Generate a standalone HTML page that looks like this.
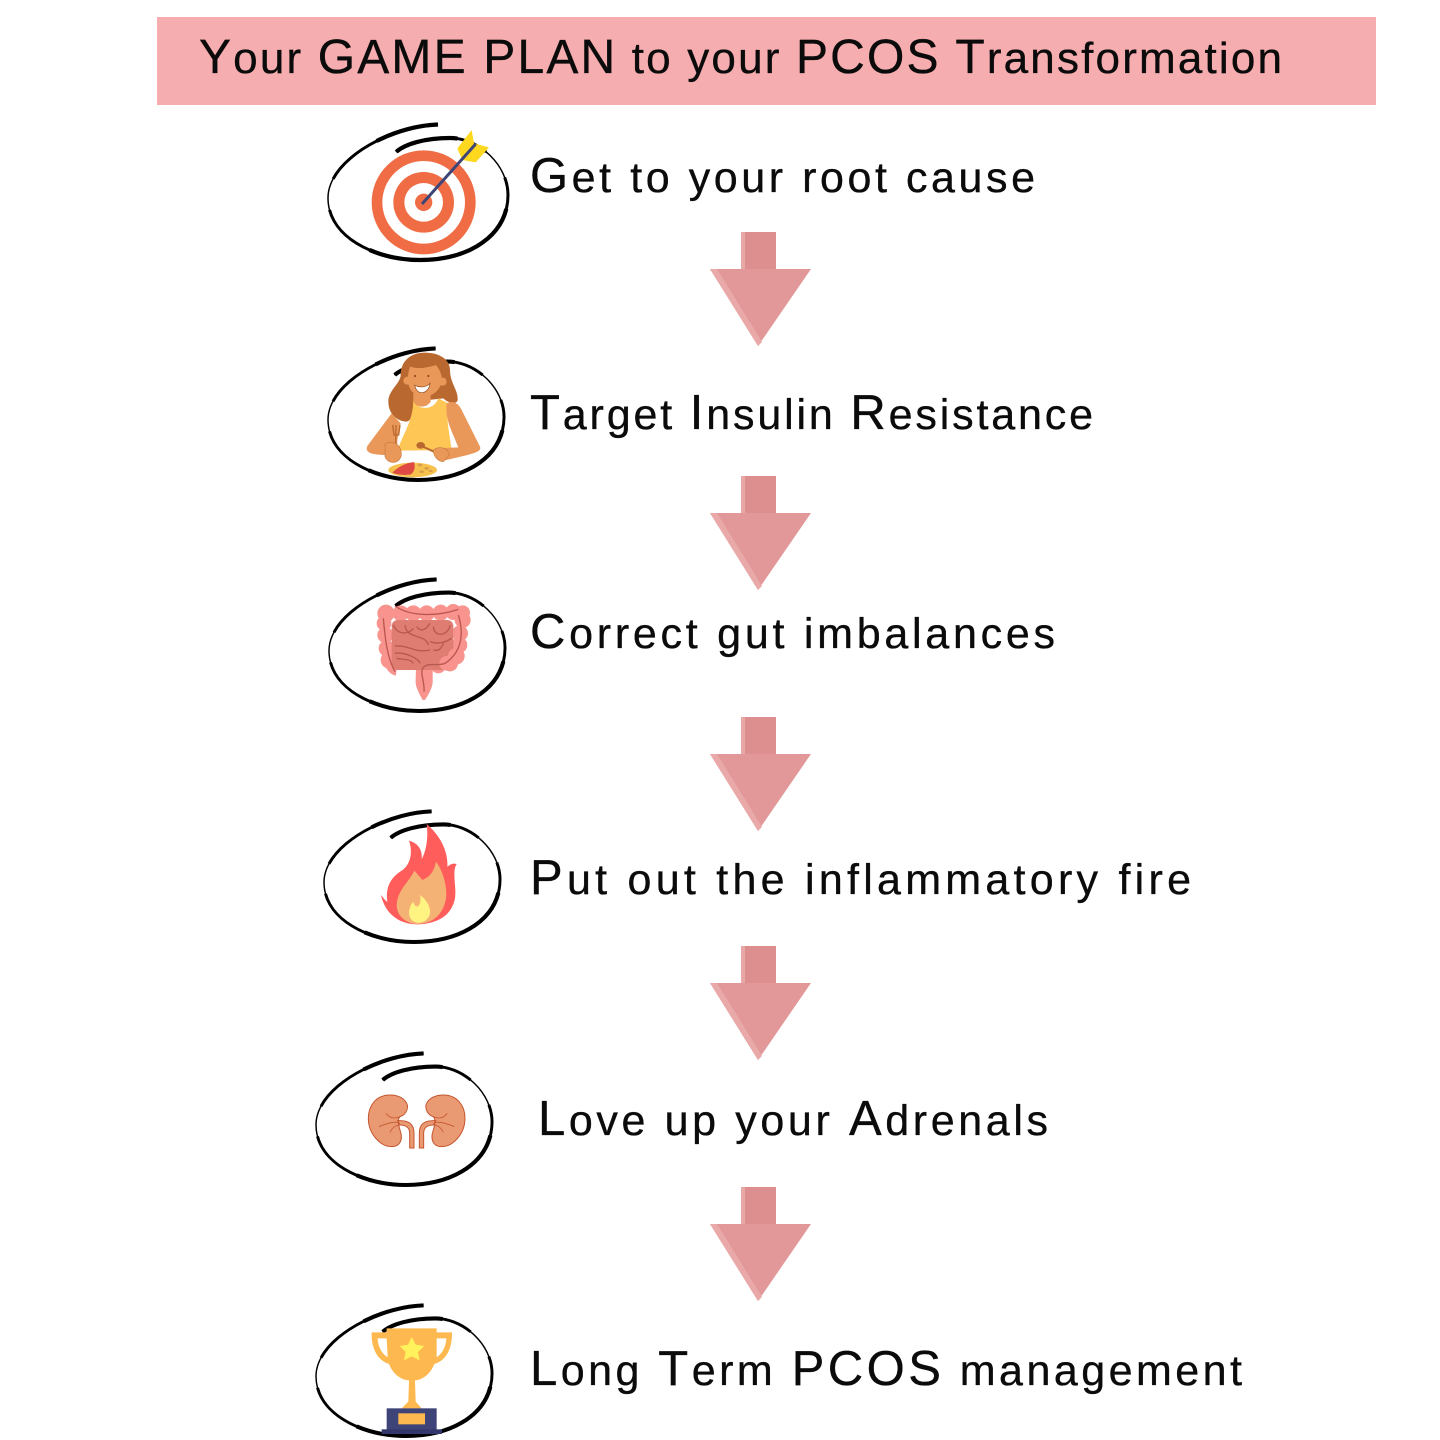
<!DOCTYPE html>
<html><head><meta charset="utf-8"><style>
html,body{margin:0;padding:0;background:#fff}
svg{display:block}
text{font-family:"Liberation Sans",sans-serif;fill:#0b0b0b;stroke:#0b0b0b;stroke-width:.35px;font-size:43px}
.c{font-size:49px}
.t{font-size:44px}
.tc{font-size:48px}
</style></head><body>
<svg width="1440" height="1440" viewBox="0 0 1440 1440" xmlns="http://www.w3.org/2000/svg">
<defs>
<path id="cl" pathLength="100" fill="none" d="M110 2.500C62 4 0 38 0 76C0 115 47 138 92 138C143 138 180 112 180 73C180 43 151 16 122 16C97 16 77 22 68 30"/>
<g id="sc" stroke="#000">
<use href="#cl" stroke-width="1.500"/>
<use href="#cl" stroke-width="3" stroke-dasharray="23 6 47 6 18"/>
<use href="#cl" stroke-width="4.200" stroke-dasharray="12 28 30 18 12"/>
</g>
<g id="ar">
<path d="M31 0H66V37H101L48 114L0 37H31Z" fill="#e29898"/>
<path d="M31 0H66V37H31Z" fill="#dd8e8e"/>
<path d="M31 0H35V37H31Z" fill="#e8a8a8"/>
<path d="M0 37H7L52 110L48 114Z" fill="#eaa9a9"/>
</g>
</defs>
<rect x="157" y="17" width="1219" height="88" fill="#f6adaf"/>
<text class="t" x="199" y="73" textLength="1083" lengthAdjust="spacing"><tspan class="tc">Y</tspan>our <tspan class="tc">GAME PLAN</tspan> to your <tspan class="tc">PCOS T</tspan>ransformation</text>

<text x="530" y="192" textLength="505" lengthAdjust="spacing"><tspan class="c">G</tspan>et to your root cause</text>
<text x="530" y="429" textLength="563" lengthAdjust="spacing"><tspan class="c">T</tspan>arget <tspan class="c">I</tspan>nsulin <tspan class="c">R</tspan>esistance</text>
<text x="530" y="648" textLength="525" lengthAdjust="spacing"><tspan class="c">C</tspan>orrect gut imbalances</text>
<text x="530" y="894" textLength="661" lengthAdjust="spacing"><tspan class="c">P</tspan>ut out the inflammatory fire</text>
<text x="538" y="1135" textLength="510" lengthAdjust="spacing"><tspan class="c">L</tspan>ove up your <tspan class="c">A</tspan>drenals</text>
<text x="530" y="1385" textLength="712" lengthAdjust="spacing"><tspan class="c">L</tspan>ong <tspan class="c">T</tspan>erm <tspan class="c">PCOS</tspan> management</text>

<use href="#ar" transform="translate(710,232)"/>
<use href="#ar" transform="translate(710,476)"/>
<use href="#ar" transform="translate(710,717)"/>
<use href="#ar" transform="translate(710,946)"/>
<use href="#ar" transform="translate(710,1187)"/>

<use href="#sc" transform="translate(328,122)"/>
<use href="#sc" transform="translate(328,346) scale(.978,.971)"/>
<use href="#sc" transform="translate(329,577) scale(.978,.971)"/>
<use href="#sc" transform="translate(324,809) scale(.978,.964)"/>
<use href="#sc" transform="translate(316,1051) scale(.978,.971)"/>
<use href="#sc" transform="translate(316,1303) scale(.978,.964)"/>

<!-- target -->
<g transform="translate(310,110) scale(.33333)">
<circle cx="341" cy="277" r="156" fill="#ef6c45"/>
<circle cx="341" cy="277" r="124" fill="#fff"/>
<circle cx="341" cy="277" r="91" fill="#ef6c45"/>
<circle cx="341" cy="277" r="58" fill="#fff"/>
<circle cx="341" cy="277" r="26" fill="#ef6c45"/>
<path d="M485 60L492 100L537 112L497 157L457 150L442 115Z" fill="#fdd81f"/>
<path d="M336 282L497 102" stroke="#3f4476" stroke-width="9"/>
</g>

<!-- woman -->
<g transform="translate(310,340) scale(.33333)">
<path d="M345 38C300 38 272 65 272 105C272 130 235 150 235 185C235 225 265 245 290 245C310 240 310 210 310 185L400 175C415 190 440 195 443 180C445 150 420 130 420 90C420 60 390 38 345 38Z" fill="#b9692f"/>
<path d="M310 180C320 210 370 215 385 175L415 190C405 220 420 290 425 330L262 332C280 280 310 240 310 180Z" fill="#fec655"/>
<path d="M310 150H362V185C350 205 320 205 310 185Z" fill="#ea9859"/>
<path d="M245 220L172 318C163 338 185 345 230 345L262 340L262 300L272 250Z" fill="#ea9859"/>
<path d="M410 190C430 180 445 190 455 210L510 320C515 335 500 340 400 362L375 325L445 322C425 270 405 240 410 190Z" fill="#ea9859"/>
<path d="M300 80C330 90 360 80 378 75C395 95 400 120 392 135C380 165 345 178 320 165C298 155 285 125 300 80Z" fill="#ea9859"/>
<circle cx="292" cy="122" r="12" fill="#ea9859"/><circle cx="398" cy="125" r="12" fill="#ea9859"/>
<path d="M314 136C330 144 350 142 360 130C358 150 345 158 335 158C325 158 318 150 314 136Z" fill="#fff" stroke="#8c4a1e" stroke-width="2"/>
<circle cx="315" cy="108" r="3" fill="#7a3f18"/><circle cx="355" cy="108" r="3" fill="#7a3f18"/>
<path d="M258 255L257 325M248 255L252 285H266L270 255" stroke="#b9692f" stroke-width="4" fill="none"/>
<path d="M225 312C250 298 275 315 274 345C270 372 235 375 225 350Z" fill="#ea9859" stroke="#c97b40" stroke-width="2"/>
<ellipse cx="332" cy="316" rx="13" ry="10" fill="#b9692f"/><path d="M335 318L378 338" stroke="#b9692f" stroke-width="6"/>
<path d="M370 330C390 315 415 325 418 345L400 365C385 365 370 350 370 330Z" fill="#ea9859" stroke="#c97b40" stroke-width="2"/>
<ellipse cx="308" cy="390" rx="73" ry="22" fill="#f6c24d"/>
<path d="M247 398C265 380 285 370 312 366C318 385 310 400 300 404C280 406 260 404 247 398Z" fill="#df4a42"/>
<g fill="#d99c4a"><ellipse cx="330" cy="375" rx="7" ry="4"/><ellipse cx="350" cy="385" rx="7" ry="4"/><ellipse cx="335" cy="395" rx="7" ry="4"/><ellipse cx="362" cy="393" rx="6" ry="3"/></g>
</g>

<!-- gut -->
<g transform="translate(310,570) scale(.33333)">
<g fill="#f8938d">
<circle cx="228" cy="130" r="26"/><circle cx="272" cy="130" r="24"/><circle cx="310" cy="130" r="24"/><circle cx="350" cy="130" r="24"/><circle cx="392" cy="128" r="24"/><circle cx="430" cy="126" r="24"/><circle cx="458" cy="128" r="22"/>
<circle cx="222" cy="160" r="22"/><circle cx="226" cy="195" r="24"/><circle cx="230" cy="235" r="24"/><circle cx="238" cy="270" r="26"/>
<path d="M213 270L262 270L258 316C245 318 230 300 213 270Z"/>
<circle cx="458" cy="150" r="24"/><circle cx="450" cy="190" r="24"/><circle cx="448" cy="225" r="24"/><circle cx="438" cy="258" r="26"/><circle cx="420" cy="280" r="24"/><circle cx="385" cy="288" r="22"/><circle cx="350" cy="290" r="22"/>
<path d="M318 290H368V330C370 350 355 375 345 390H338C330 375 315 350 317 330Z"/>
</g>
<rect x="245" y="150" width="185" height="150" rx="18" fill="#df7d72"/>
<circle cx="438" cy="258" r="24" fill="#f8938d"/><circle cx="410" cy="280" r="22" fill="#f8938d"/>
<g fill="none" stroke="#b8584e" stroke-width="4">
<path d="M255 108C300 140 380 140 445 118M220 145C225 200 230 260 255 305M445 135C465 200 450 250 405 280C380 290 350 275 338 295C330 310 345 340 342 365"/>
<path d="M250 165C265 200 300 190 310 175M285 165C290 210 345 190 355 225M320 170C335 190 350 175 360 160M370 170C375 210 420 190 420 165M255 228C300 225 310 250 360 240M255 250C290 245 330 270 330 280M370 240C385 245 395 235 400 220M260 265C280 270 300 265 310 280M360 215C385 225 410 215 425 205"/>
</g>
</g>

<!-- flame -->
<g transform="translate(310,800) scale(.33333)">
<path d="M350 72C395 110 415 160 412 200C425 190 432 190 440 192C425 215 440 260 435 295C425 345 385 372 320 373C265 372 225 340 213 285C222 295 228 305 232 305C225 260 245 230 275 212C300 195 310 160 297 122C325 130 338 150 335 178C350 150 355 110 350 72Z" fill="#ff5c5c"/>
<path d="M378 185C400 215 412 260 408 295C400 345 365 372 320 372C285 370 260 345 260 315C262 270 295 250 313 212C325 225 332 235 338 240C360 230 372 215 378 185Z" fill="#f4b375"/>
<path d="M330 285C350 300 362 320 360 340C355 362 335 370 322 368C305 366 297 350 297 340C298 320 305 310 310 305C312 315 318 322 325 318C332 310 333 298 330 285Z" fill="#fff382"/>
</g>

<!-- kidneys -->
<g transform="translate(305,1045) scale(.33333)">
<g id="kid" fill="#e99a72" stroke="#c4552f" stroke-width="3">
<path d="M255 150C215 150 190 180 190 220C190 265 225 305 260 305C285 305 292 285 288 265C282 245 275 225 285 215C300 210 310 195 307 180C300 160 280 150 255 150Z"/>
<path d="M278 227C315 225 327 240 327 265V309H314V265C314 250 305 240 285 240Z"/>
<path fill="none" stroke-width="2.500" d="M243 205C255 220 270 222 285 215M222 245C245 235 265 230 280 232M255 262C262 248 272 240 285 240"/>
</g>
<use href="#kid" transform="translate(670,0) scale(-1,1)"/>
</g>

<!-- trophy -->
<g transform="translate(305,1295) scale(.33333)">
<path fill-rule="evenodd" d="M200 112H245V100H395V112H441C442 150 430 195 388 207C375 240 350 255 330 256L332 320L350 340H290L310 320L312 256C290 255 265 240 252 207C212 195 198 150 200 112ZM218 130C218 150 230 178 248 186L245 130ZM395 130V186C412 178 424 150 424 130Z" fill="#fdb94f"/>
<path d="M320 126L332 149L358 153L339 171L344 196L320 184L297 196L302 171L284 153L309 149Z" fill="#fff25c"/>
<rect x="245" y="340" width="150" height="65" fill="#3f4478"/>
<rect x="280" y="355" width="80" height="33" fill="#fdb94f"/>
<rect x="230" y="403" width="181" height="14" fill="#33376b"/>
</g>
</svg>
</body></html>
